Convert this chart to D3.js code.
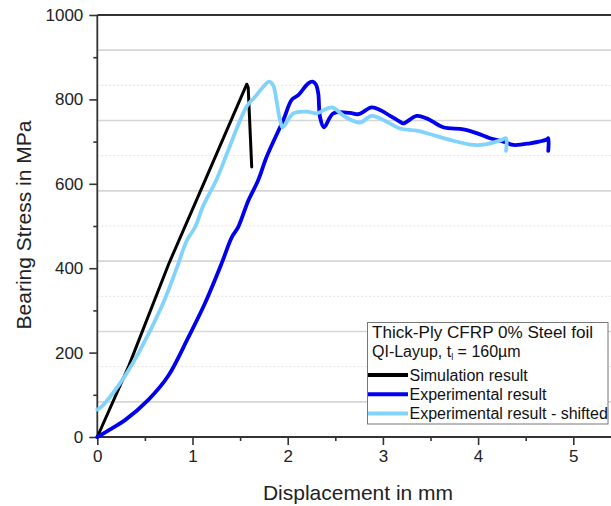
<!DOCTYPE html>
<html>
<head>
<meta charset="utf-8">
<script src="https://cdn.jsdelivr.net/npm/d3@7"></script>
<style>
  body { margin: 0; background: #fff; }
  svg { display: block; font-family: "Liberation Sans", Arial, sans-serif; }
</style>
</head>
<body>
<svg width="611" height="506"></svg>
<script>
// displacement (mm), bearing stress (MPa)
var simulation = [[0, 0], [0.33, 168], [0.75, 410], [1.13, 607], [1.57, 836], [1.585, 828], [1.622, 640]]

var experimental = [[0, 0], [0.15, 20], [0.291, 40], [0.536, 88], [0.746, 145], [0.956, 236], [1.131, 317],
  [1.307, 412], [1.412, 473], [1.481, 498], [1.586, 560], [1.691, 609], [1.779, 664], [1.954, 751],
  [2.042, 799], [2.111, 810], [2.216, 838], [2.26, 842], [2.295, 836], [2.321, 814], [2.339, 759],
  [2.381, 734], [2.479, 767], [2.654, 768], [2.742, 765], [2.882, 781], [2.97, 775], [3.075, 761],
  [3.18, 747], [3.214, 743], [3.355, 761], [3.46, 755], [3.634, 734], [3.845, 729], [3.985, 720],
  [4.125, 708], [4.265, 700], [4.37, 692], [4.545, 696], [4.72, 705], [4.737, 708], [4.737, 678]]

var shifted = [[0, 65], [0.046, 72], [0.238, 127], [0.431, 198], [0.676, 309], [0.834, 400], [0.939, 465],
  [1.026, 497], [1.113, 548], [1.254, 611], [1.359, 670], [1.569, 783], [1.657, 806], [1.744, 830],
  [1.807, 842], [1.85, 832], [1.88, 800], [1.919, 751], [1.947, 734], [2.059, 767], [2.2, 771], [2.305, 767],
  [2.41, 778], [2.47, 781], [2.602, 759], [2.759, 745], [2.882, 761], [3.04, 747], [3.18, 731],
  [3.355, 726], [3.565, 713], [3.74, 702], [3.95, 692], [4.09, 694], [4.248, 704], [4.293, 708], [4.293, 678]]

var xTicks = [0, 1, 2, 3, 4, 5]
var yTicks = [0, 200, 400, 600, 800, 1000]
var legendTitle = ["Thick-Ply CFRP 0% Steel foil", "QI-Layup, t", "l", " = 160µm"]
var seriesNames = ["Simulation result", "Experimental result", "Experimental result - shifted"]
var seriesColors = ["#000000", "#0000ee", "#82d3fc"]

var svg = d3.select("svg")
var x = d3.scaleLinear().domain([0, 5.5]).range([97.3, 620.9])
var y = d3.scaleLinear().domain([0, 1000]).range([437, 15])

// background grid: solid and dotted lines alternate every 1000/12 MPa
var grid = d3.range(1, 12).map(i => i * 1000 / 12)
svg.append("g").selectAll("line")
  .data(grid)
  .enter()
  .append("line")
    .attr("x1", x(0)).attr("x2", 611)
    .attr("y1", d => y(d)).attr("y2", d => y(d))
    .attr("stroke", (d, i) => i % 2 == 0 ? "#d6d6d6" : "#e2e2e2")
    .attr("stroke-width", (d, i) => i % 2 == 0 ? 1.6 : 1)
    .attr("stroke-dasharray", (d, i) => i % 2 == 0 ? null : "2,2")

// axes
var xAxis = d3.axisBottom(x).tickValues(xTicks).tickSize(8).tickPadding(5).tickFormat(d3.format("d"))
var xMinor = d3.axisBottom(x).tickValues(d3.range(0.5, 5.5, 1)).tickSize(4).tickFormat("")
var yAxis = d3.axisLeft(y).tickValues(yTicks).tickSize(8).tickPadding(6).tickFormat(d3.format("d"))
var yMinor = d3.axisLeft(y).tickValues(d3.range(100, 1000, 200)).tickSize(4).tickFormat("")

function styleAxis(g) {
  g.select(".domain").remove()
  g.selectAll("line").attr("stroke", "#333").attr("stroke-width", 1.6)
  g.selectAll("text").attr("fill", "#222").style("font-size", "17px")
}

svg.append("g").attr("transform", "translate(0,437)").call(xMinor).call(styleAxis)
svg.append("g").attr("transform", "translate(0,437)").call(xAxis).call(styleAxis)
svg.append("g").attr("transform", "translate(97.3,0)").call(yMinor).call(styleAxis)
svg.append("g").attr("transform", "translate(97.3,0)").call(yAxis).call(styleAxis)

svg.append("line").attr("x1", 97.3).attr("x2", 611).attr("y1", 437).attr("y2", 437)
  .attr("stroke", "#333").attr("stroke-width", 1.8)
svg.append("line").attr("x1", 97.3).attr("x2", 611).attr("y1", 15).attr("y2", 15)
  .attr("stroke", "#333").attr("stroke-width", 1.8)
svg.append("line").attr("x1", 97.3).attr("x2", 97.3).attr("y1", 15).attr("y2", 437)
  .attr("stroke", "#333").attr("stroke-width", 1.8)

svg.append("text")
  .attr("x", 358).attr("y", 500)
  .attr("text-anchor", "middle")
  .style("font-size", "21px").attr("fill", "#222")
  .text("Displacement in mm")

svg.append("text")
  .attr("transform", "translate(31,225) rotate(-90)")
  .attr("text-anchor", "middle")
  .style("font-size", "21px").attr("fill", "#222")
  .text("Bearing Stress in MPa")

// curves
var straight = d3.line().x(d => x(d[0])).y(d => y(d[1]))
var smooth = d3.line().x(d => x(d[0])).y(d => y(d[1])).curve(d3.curveCatmullRom.alpha(0.5))
var series = [simulation, experimental, shifted]
svg.append("g").selectAll("path")
  .data(series)
  .enter()
  .append("path")
    .attr("d", (d, i) => i == 0 ? straight(d) : smooth(d))
    .attr("fill", "none")
    .attr("stroke", (d, i) => seriesColors[i])
    .attr("stroke-width", (d, i) => i == 0 ? 3 : 3.8)
    .attr("stroke-linejoin", "round")
    .attr("stroke-linecap", "round")

// legend
var lg = svg.append("g")
lg.append("rect")
  .attr("x", 367.5).attr("y", 322.5).attr("width", 240.5).attr("height", 101.5)
  .attr("fill", "#fff").attr("stroke", "#777").attr("stroke-width", 1)

lg.append("text").attr("x", 372).attr("y", 338)
  .attr("textLength", 221).attr("lengthAdjust", "spacingAndGlyphs")
  .style("font-size", "16px").attr("fill", "#111").text(legendTitle[0])
var t2 = lg.append("text").attr("x", 372).attr("y", 357)
  .style("font-size", "16px").attr("fill", "#111")
t2.append("tspan").text(legendTitle[1])
t2.append("tspan").attr("dy", 3).style("font-size", "9px").text(legendTitle[2])
t2.append("tspan").attr("dy", -3).text(legendTitle[3])

var rows = lg.selectAll("g.row")
  .data(seriesNames)
  .enter()
  .append("g")
    .attr("class", "row")
    .attr("transform", (d, i) => "translate(0," + (375 + i * 19.3) + ")")
rows.append("line")
  .attr("x1", 368).attr("x2", 408).attr("y1", 0).attr("y2", 0)
  .attr("stroke", (d, i) => seriesColors[i])
  .attr("stroke-width", 4)
rows.append("text")
  .attr("x", 409.5).attr("y", 5.5)
  .style("font-size", "16px").attr("fill", "#111")
  .text(d => d)
</script>
</body>
</html>
